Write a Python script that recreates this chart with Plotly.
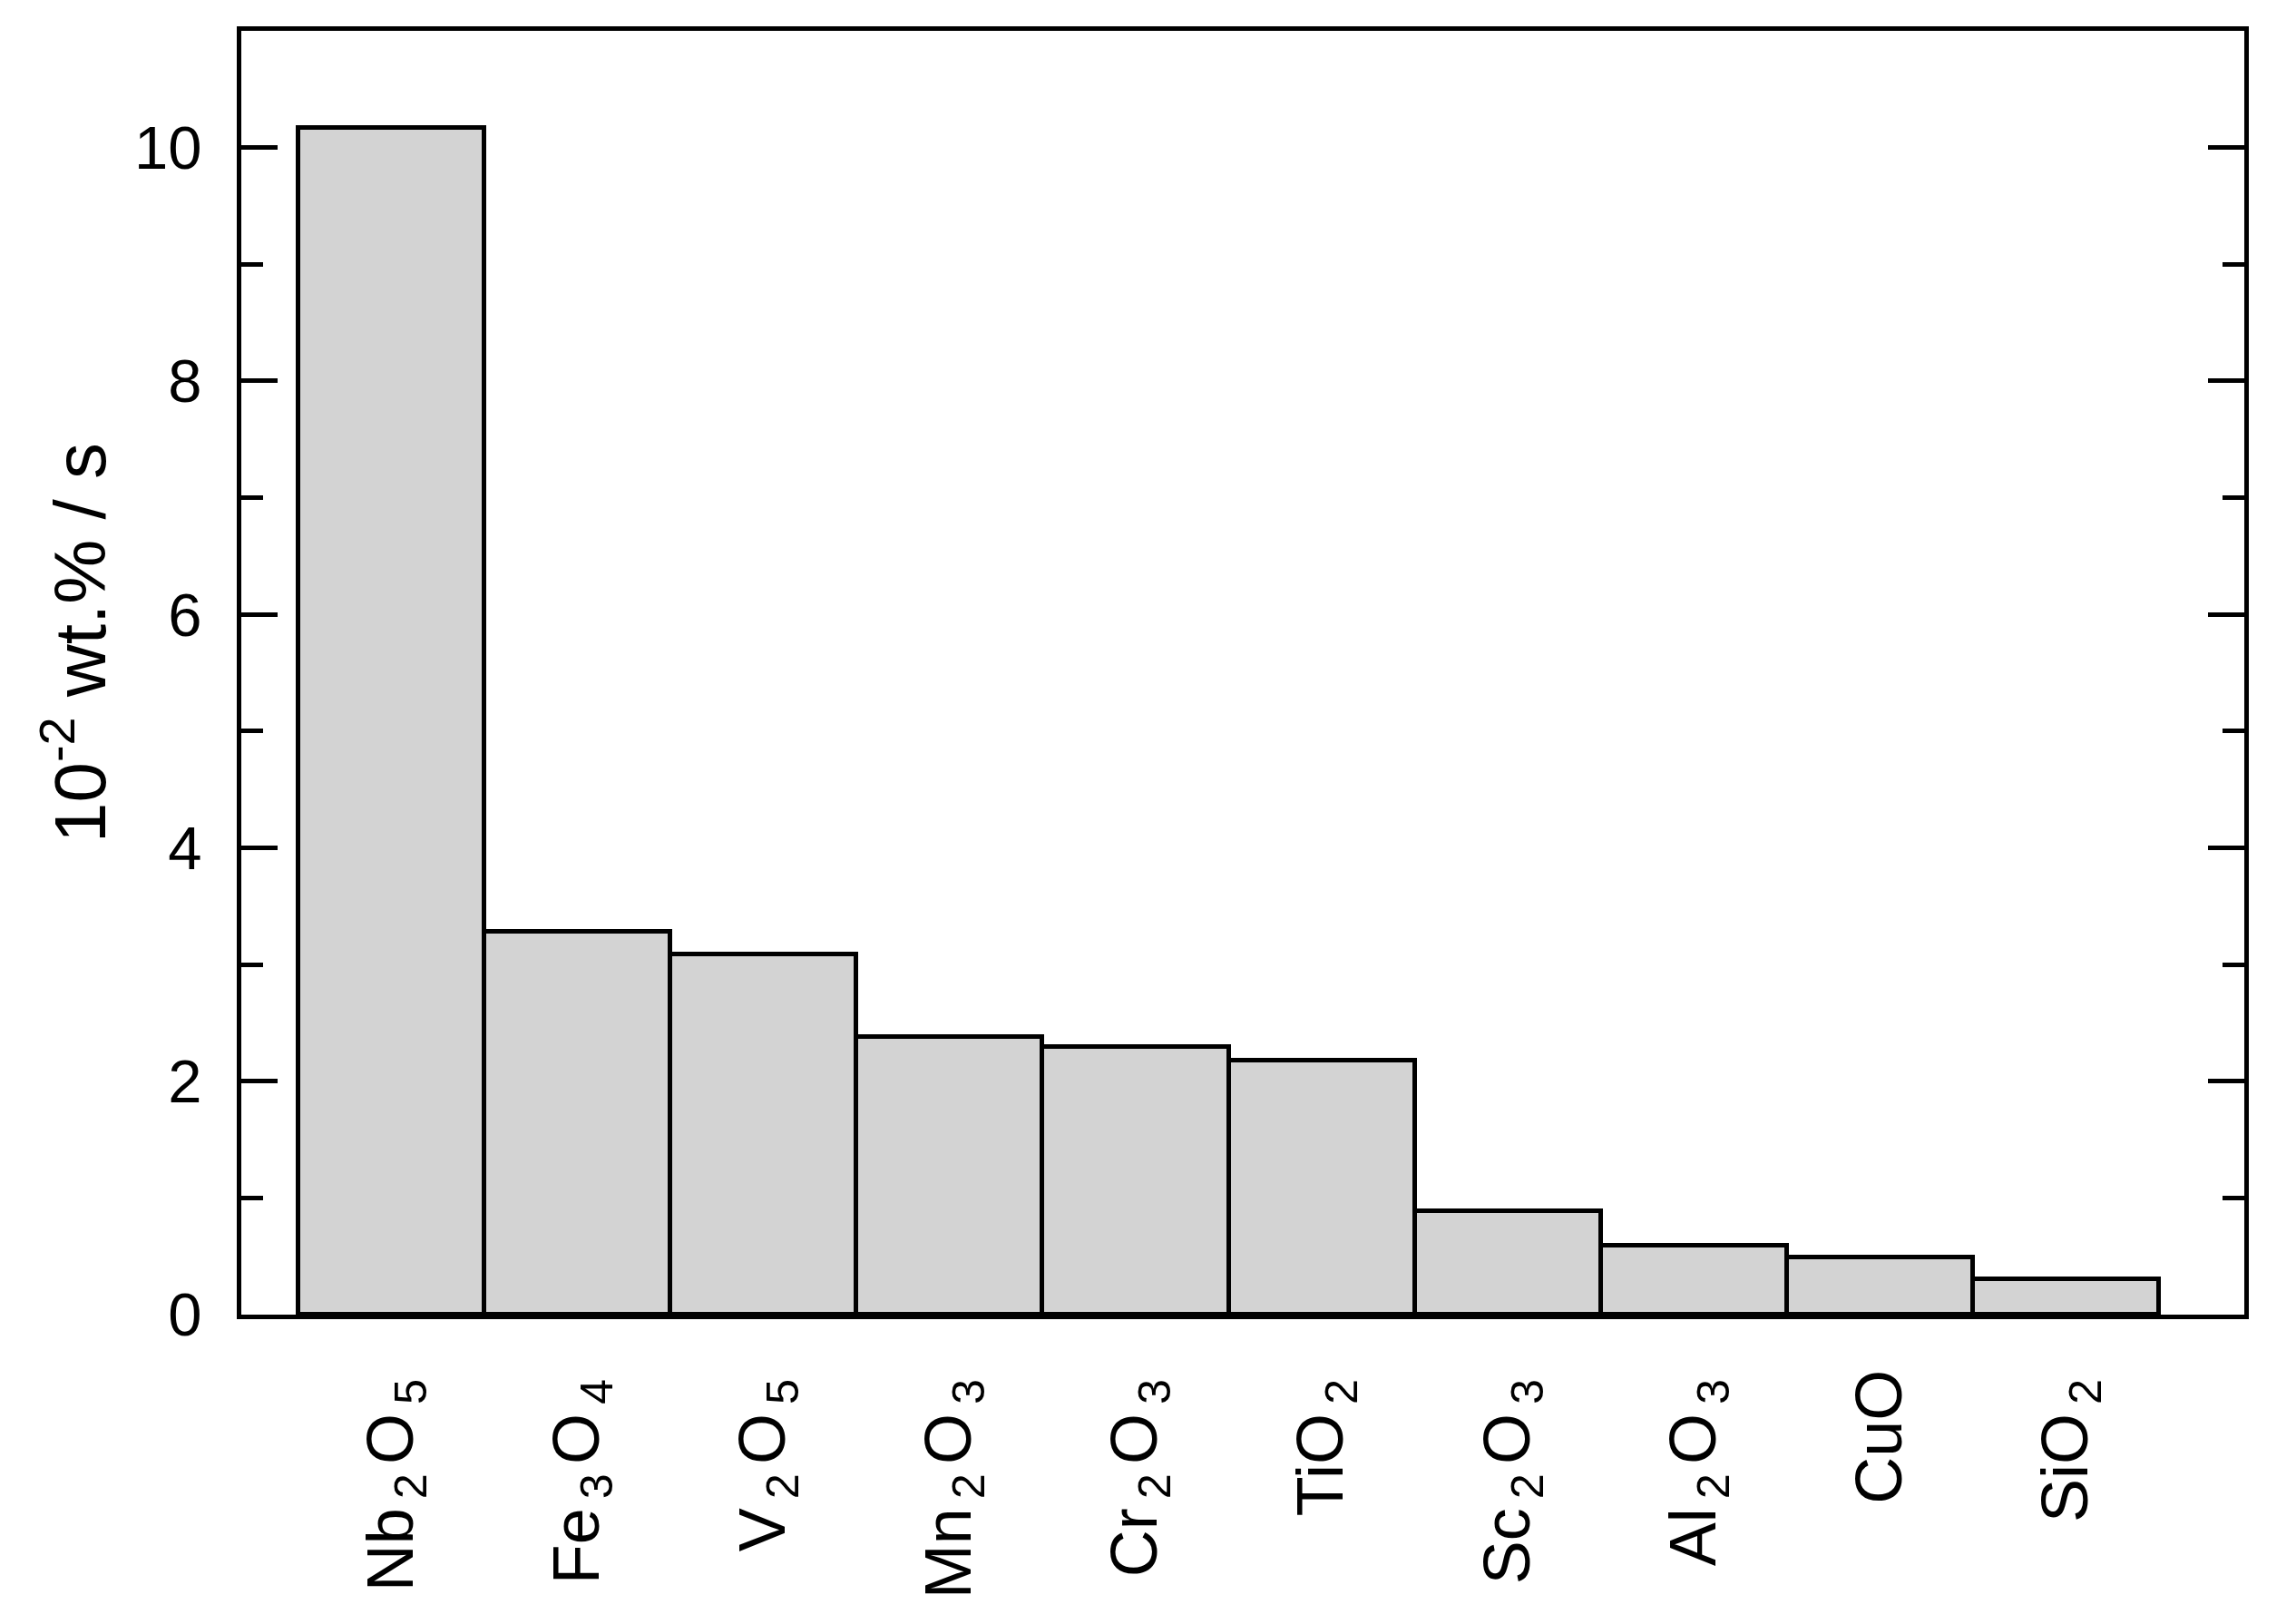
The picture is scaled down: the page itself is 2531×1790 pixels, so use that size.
import plotly.graph_objects as go

# oxide additions and dissolution rate (10^-2 wt.% / s)
oxides = ["Nb2O5", "Fe3O4", "V2O5", "Mn2O3", "Cr2O3", "TiO2", "Sc2O3", "Al2O3", "CuO", "SiO2"]
rates = [10.17, 3.28, 3.09, 2.38, 2.29, 2.18, 0.89, 0.59, 0.49, 0.30]

yticks = [0, 2, 4, 6, 8, 10]
yminor = [1, 3, 5, 7, 9]


def chem(name):
    # digits become subscripts, with a thin gap either side like the original
    out = ""
    for ch in name:
        if ch.isdigit():
            out += "<sub>\u2009" + ch + "\u2009</sub>"
        else:
            out += ch
    return out


labels = [chem(o) for o in oxides]

FONT = "Liberation Sans, Arial, Helvetica, sans-serif"
LW = 5

fig = go.Figure()
fig.add_trace(go.Bar(
    x=list(range(len(oxides))),
    y=rates,
    marker=dict(color="#d3d3d3", line=dict(color="black", width=LW)),
    width=1.0,
    showlegend=False,
))

# page body adds an 8px offset, so the figure is a bit smaller than the window
fig.update_layout(
    width=2523, height=1782,
    margin=dict(l=258, r=57, t=26, b=341),
    paper_bgcolor="white", plot_bgcolor="white",
    font=dict(family=FONT, size=67, color="black"),
    bargap=0,
)

fig.update_xaxes(
    range=[-0.807, 9.958],
    tickvals=list(range(len(oxides))),
    ticktext=labels,
    tickangle=-90,
    tickfont=dict(size=72),
    ticks="",
    showline=True, linecolor="black", linewidth=LW, mirror=True,
    showgrid=False, zeroline=False,
    ticklabelstandoff=27,
)

fig.update_yaxes(
    range=[0, 11],
    tickvals=yticks,
    ticks="inside", ticklen=40, tickwidth=LW, tickcolor="black",
    minor=dict(tickvals=yminor, ticks="inside", ticklen=24, tickwidth=LW, tickcolor="black"),
    showline=True, linecolor="black", linewidth=LW, mirror="ticks",
    showgrid=False, zeroline=False,
    ticklabelstandoff=25,
)

fig.add_annotation(
    text="10<sup>-2</sup> wt.% / s",
    textangle=-90,
    xref="paper", yref="paper",
    x=-0.0833, y=0.523,
    xanchor="center", yanchor="middle",
    showarrow=False,
    font=dict(family=FONT, size=80, color="black"),
)

fig.write_html("out.html")
